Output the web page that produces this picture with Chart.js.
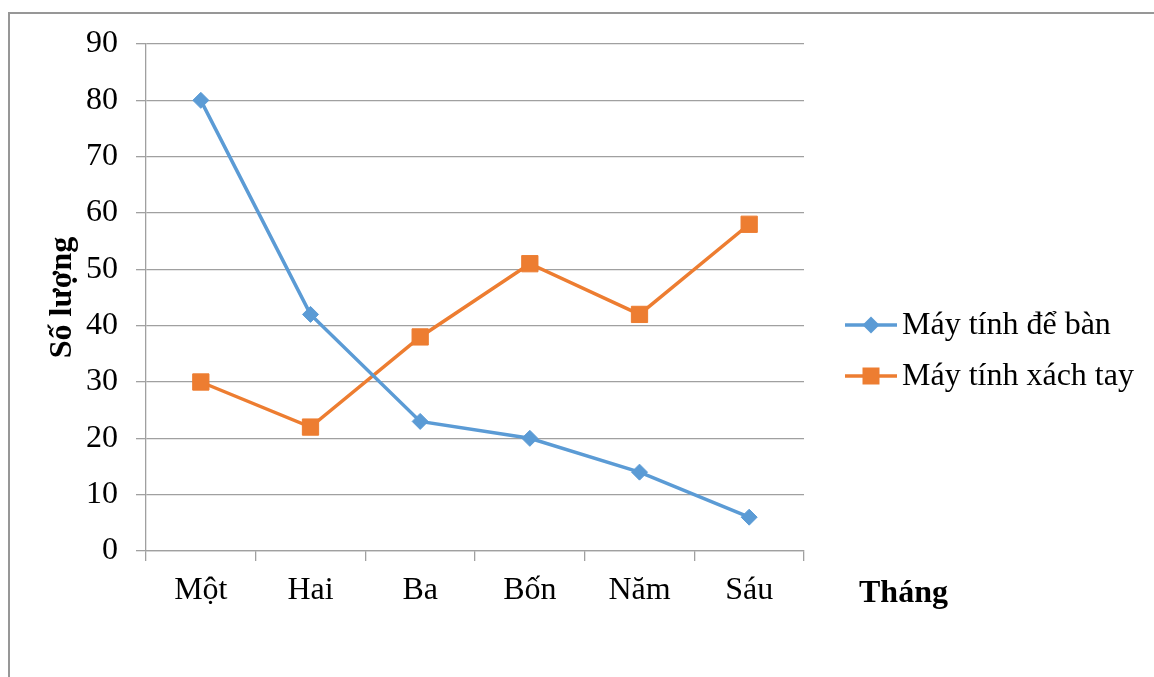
<!DOCTYPE html>
<html lang="vi">
<head>
<meta charset="utf-8">
<title>Máy tính để bàn và máy tính xách tay</title>
<script src="https://cdn.jsdelivr.net/npm/chart.js@4/dist/chart.umd.min.js"></script>
<style>
  html, body { margin: 0; padding: 0; background: #ffffff; }
  #wrap { position: relative; width: 1154px; height: 677px; }
</style>
</head>
<body>
<div id="wrap"><canvas id="chart" width="1154" height="677"></canvas></div>
<script>
// Monthly quantities
const months = ['Một', 'Hai', 'Ba', 'Bốn', 'Năm', 'Sáu'];
const desktop = [80, 42, 23, 20, 14, 6];
const laptop = [30, 22, 38, 51, 42, 58];
const seriesNames = ['Máy tính để bàn', 'Máy tính xách tay'];
const yTitle = 'Số lượng';
const xTitle = 'Tháng';
const yMin = 0, yMax = 90, yStep = 10;

const FONT = "'Liberation Serif', 'Times New Roman', serif";
const FONT_SIZE = 32;
const BLUE = '#5B9BD5';
const ORANGE = '#ED7D31';
const GRID = '#a0a0a0';

// Frame along the top and left edges
const framePlugin = {
  id: 'frame',
  beforeDraw(chart) {
    const ctx = chart.ctx;
    ctx.save();
    ctx.strokeStyle = '#979797';
    ctx.lineWidth = 2;
    ctx.beginPath();
    ctx.moveTo(1154, 13);
    ctx.lineTo(9, 13);
    ctx.lineTo(9, 677);
    ctx.stroke();
    ctx.restore();
  }
};

function drawMarker(ctx, style, x, y, color) {
  ctx.fillStyle = color;
  ctx.beginPath();
  if (style === 'rectRot') {
    const r = 8.5;
    ctx.moveTo(x, y - r);
    ctx.lineTo(x + r, y);
    ctx.lineTo(x, y + r);
    ctx.lineTo(x - r, y);
    ctx.closePath();
  } else {
    const h = 8.5;
    ctx.rect(x - h, y - h, 2 * h, 2 * h);
  }
  ctx.fill();
}

// Legend on the right and the month axis caption
const sidePlugin = {
  id: 'side',
  afterDraw(chart) {
    const ctx = chart.ctx;
    const area = chart.chartArea;
    ctx.save();
    // axis caption
    ctx.fillStyle = '#000';
    ctx.font = 'bold ' + FONT_SIZE + 'px ' + FONT;
    ctx.textAlign = 'left';
    ctx.textBaseline = 'alphabetic';
    ctx.fillText(xTitle, area.right + 55, 602);

    // legend entries
    const rows = [325, 376];
    chart.data.datasets.forEach((ds, i) => {
      const y = rows[i];
      ctx.strokeStyle = ds.borderColor;
      ctx.lineWidth = ds.borderWidth;
      ctx.beginPath();
      ctx.moveTo(845, y);
      ctx.lineTo(897, y);
      ctx.stroke();
      drawMarker(ctx, ds.pointStyle, 871, y, ds.borderColor);
      ctx.fillStyle = '#000';
      ctx.font = FONT_SIZE + 'px ' + FONT;
      ctx.textBaseline = 'middle';
      ctx.fillText(ds.label, 902, y + 1);
    });
    ctx.restore();
  }
};

new Chart(document.getElementById('chart'), {
  type: 'line',
  data: {
    labels: months,
    datasets: [
      {
        label: seriesNames[0],
        data: desktop,
        borderColor: BLUE,
        backgroundColor: BLUE,
        borderWidth: 3.5,
        pointStyle: 'rectRot',
        pointRadius: 8,
        pointBorderWidth: 1,
        pointBackgroundColor: BLUE,
        pointBorderColor: BLUE,
        tension: 0
      },
      {
        label: seriesNames[1],
        data: laptop,
        borderColor: ORANGE,
        backgroundColor: ORANGE,
        borderWidth: 3.5,
        pointStyle: 'rect',
        pointRadius: 11.5,
        pointBorderWidth: 1,
        pointBackgroundColor: ORANGE,
        pointBorderColor: ORANGE,
        tension: 0
      }
    ]
  },
  options: {
    responsive: false,
    animation: false,
    devicePixelRatio: 1,
    layout: { padding: { top: 44, right: 350, bottom: 0, left: 0 } },
    plugins: {
      legend: { display: false },
      tooltip: { enabled: false }
    },
    scales: {
      x: {
        type: 'category',
        offset: true,
        grid: {
          offset: true,
          drawOnChartArea: false,
          drawTicks: true,
          tickLength: 10,
          color: GRID,
          lineWidth: 1.3
        },
        border: { color: GRID, width: 1.3 },
        ticks: {
          color: '#000',
          padding: 10,
          maxRotation: 0,
          font: { family: FONT, size: FONT_SIZE }
        },
        afterFit(scale) { scale.height = 126; }
      },
      y: {
        min: yMin,
        max: yMax,
        grid: {
          color: GRID,
          lineWidth: 1.3,
          tickLength: 10
        },
        border: { color: GRID, width: 1.3 },
        ticks: {
          stepSize: yStep,
          color: '#000',
          padding: 18,
          font: { family: FONT, size: FONT_SIZE }
        },
        title: {
          display: true,
          text: yTitle,
          color: '#000',
          padding: { top: 44, bottom: 0 },
          font: { family: FONT, size: FONT_SIZE, weight: 'bold' }
        },
        afterFit(scale) { scale.width = 146; }
      }
    }
  },
  plugins: [framePlugin, sidePlugin]
});
</script>
</body>
</html>
